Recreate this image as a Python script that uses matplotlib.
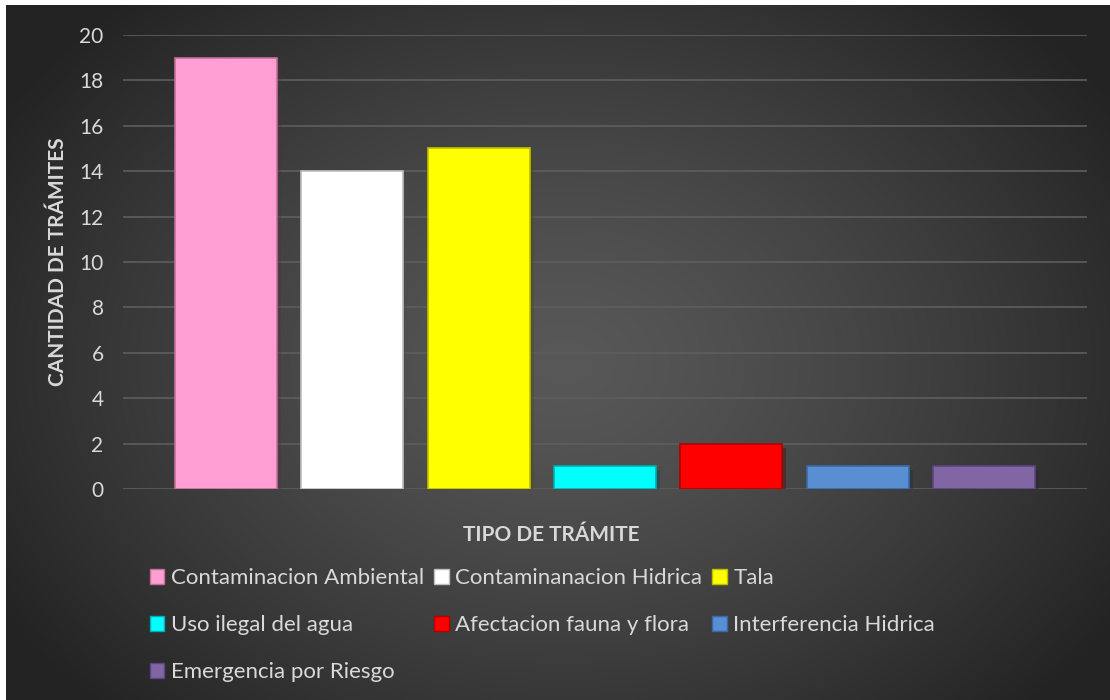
import numpy as np
import matplotlib
matplotlib.use("Agg")
import matplotlib.pyplot as plt
import matplotlib.patheffects as pe
from matplotlib.patches import Patch

plt.rcParams['font.family'] = ['Lato', 'DejaVu Sans']

categories = ["Contaminacion Ambiental", "Contaminanacion Hidrica", "Tala",
              "Uso ilegal del agua", "Afectacion fauna y flora",
              "Interferencia Hidrica", "Emergencia por Riesgo"]
values = [19, 14, 15, 1, 2, 1, 1]
colors = ["#ff9fd4", "#ffffff", "#ffff00", "#00ffff", "#ff0000", "#5a8ed2", "#8266a4"]
edges = ["#c0709a", "#bfbfbf", "#bfbf00", "#00b0b0", "#b00000", "#3a6aa6", "#5a4680"]
yticks = list(range(0, 21, 2))
TXT = "#d9d9d9"

W, H = 1110, 700
fig = plt.figure(figsize=(W / 100, H / 100), dpi=100)
fig.patch.set_facecolor("white")

# radial gradient background
bg = fig.add_axes([6 / W, 0, 1 - 6 / W, 1 - 5 / H], zorder=-10)
yy, xx = np.mgrid[0:H, 0:W]
r = np.sqrt(((xx - 560) / 640.0) ** 2 + ((yy - 360) / 480.0) ** 2)
shade = np.clip(0.345 - 0.2 * r ** 1.3, 0.14, 0.4)
bg.imshow(np.dstack([shade] * 3), aspect="auto", extent=[0, 1, 0, 1])
bg.set_axis_off()

ax = fig.add_axes([123 / W, 1 - 489 / H, (1087 - 123) / W, (489 - 35) / H])
ax.patch.set_alpha(0)
x = np.arange(len(categories))
bars = ax.bar(x, values, width=0.805, color=colors, edgecolor=edges, linewidth=1.2,
              zorder=3)
for b in bars:
    b.set_path_effects([pe.SimplePatchShadow(offset=(3, -3), alpha=0.35), pe.Normal()])

ax.set_xlim(-0.815, len(categories) - 1 + 0.815)
ax.set_ylim(0, 20)
ax.set_yticks(yticks)
ax.yaxis.grid(True, color="#5e5e5e", linewidth=1.2, zorder=0)
ax.set_xticks([])
ax.tick_params(axis="y", length=0, pad=14, labelsize=15, labelcolor=TXT)
for s in ax.spines.values():
    s.set_visible(False)

fig.text(58 / W, 1 - 262 / H, "CANTIDAD DE TRÁMITES", rotation=90, ha="center",
         va="center", fontsize=15, fontweight="bold", color=TXT)
fig.text(551 / W, 1 - 535 / H, "TIPO DE TRÁMITE", ha="center", va="center",
         fontsize=15, fontweight="bold", color=TXT)

handles = [Patch(facecolor=c, edgecolor=e) for c, e in zip(colors, edges)]
order = [0, 3, 6, 1, 4, 2, 5]
leg = fig.legend([handles[i] for i in order], [categories[i] for i in order],
                 loc="upper left", bbox_to_anchor=(150 / W, 1 - 568 / H), ncol=3,
                 frameon=False, fontsize=16, labelcolor=TXT, handlelength=0.65,
                 handleheight=0.65, handletextpad=0.3, columnspacing=0.45,
                 labelspacing=1.22, borderpad=0, borderaxespad=0)

fig.savefig("out.png", dpi=100)
